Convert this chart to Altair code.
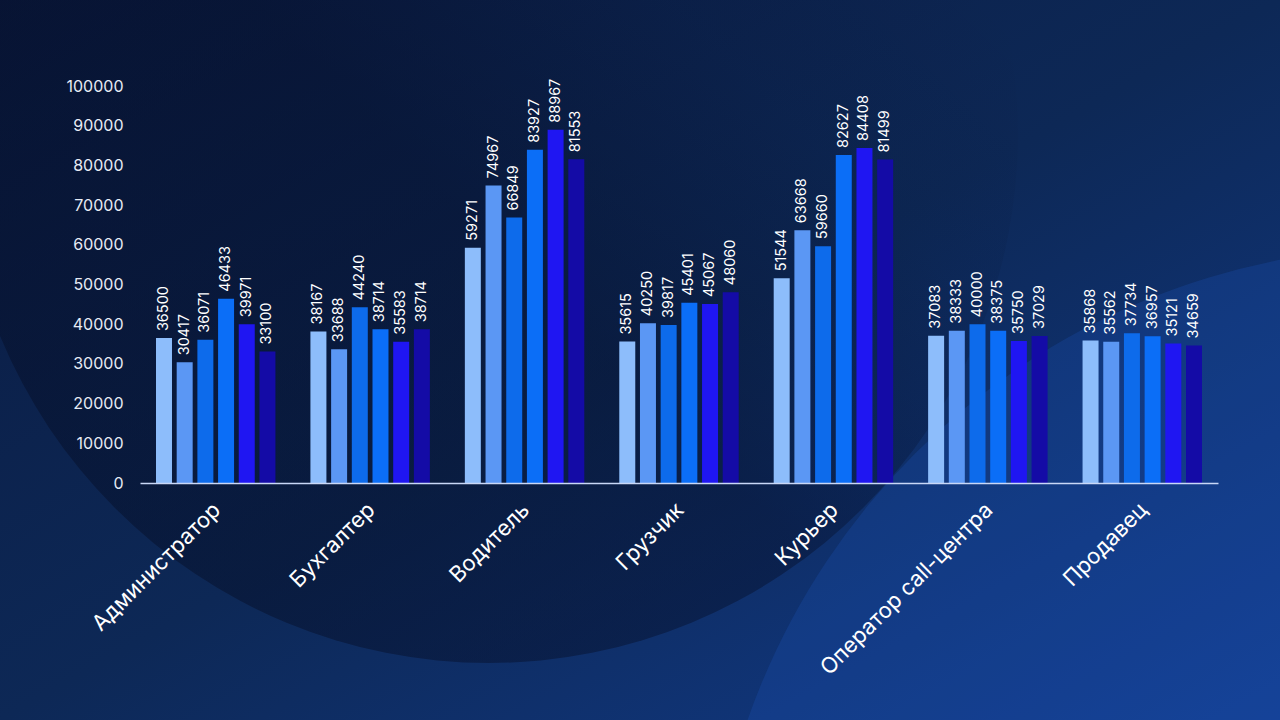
import altair as alt
import pandas as pd

categories = ["Администратор", "Бухгалтер", "Водитель", "Грузчик", "Курьер",
              "Оператор call-центра", "Продавец"]
series = ["Ряд 1", "Ряд 2", "Ряд 3", "Ряд 4", "Ряд 5", "Ряд 6"]
values = [
    [36500, 30417, 36071, 46433, 39971, 33100],
    [38167, 33688, 44240, 38714, 35583, 38714],
    [59271, 74967, 66849, 83927, 88967, 81553],
    [35615, 40250, 39817, 45401, 45067, 48060],
    [51544, 63668, 59660, 82627, 84408, 81499],
    [37083, 38333, 40000, 38375, 35750, 37029],
    [35868, 35562, 37734, 36957, 35121, 34659],
]
colors = ["#8DBDFB", "#5B97F4", "#0D6BEB", "#0B6EF7", "#1F16F2", "#140BA6"]
y_ticks = list(range(0, 100001, 10000))

rows = []
for ci, cat in enumerate(categories):
    for si, s in enumerate(series):
        rows.append({"cat": cat, "series": s, "value": values[ci][si]})
df = pd.DataFrame(rows)

FONT = "Inter"
W, H = 1078, 397
PAD_L, PAD_T = 140, 86

one = pd.DataFrame({"k": [0]})

bg = alt.Chart(one).mark_rect(
    fill=alt.Gradient(
        gradient="linear",
        stops=[alt.GradientStop(offset=0, color="#0A1A40"),
               alt.GradientStop(offset=0.5, color="#0D2856"),
               alt.GradientStop(offset=1, color="#123C8C")],
        x1=0, y1=0, x2=1, y2=1),
    strokeWidth=0,
).encode(x=alt.value(-PAD_L), x2=alt.value(1280 - PAD_L),
         y=alt.value(-PAD_T), y2=alt.value(720 - PAD_T))

# large darker disc behind the chart, fading out towards the top right
dark = alt.Chart(one).mark_point(
    shape="circle", size=(2 * 529) ** 2, filled=True, opacity=1, strokeWidth=0,
    fill=alt.Gradient(
        gradient="linear",
        stops=[alt.GradientStop(offset=0, color="rgba(4,11,34,0.45)"),
               alt.GradientStop(offset=0.45, color="rgba(4,11,34,0.40)"),
               alt.GradientStop(offset=0.65, color="rgba(4,11,34,0.10)"),
               alt.GradientStop(offset=0.8, color="rgba(4,11,34,0)")],
        x1=0, y1=1, x2=1, y2=0),
).encode(x=alt.value(489 - PAD_L), y=alt.value(134 - PAD_T))

# lighter disc in the lower right corner
light = alt.Chart(one).mark_point(
    shape="circle", size=(2 * 706) ** 2, filled=True, opacity=0.22,
    fill="#1E5CC8", strokeWidth=0,
).encode(x=alt.value(1414 - PAD_L), y=alt.value(953 - PAD_T))

x_enc = alt.X("cat:N", sort=categories, title=None,
              scale=alt.Scale(paddingInner=0.2265, paddingOuter=0.1036),
              axis=alt.Axis(labelAngle=-45, labelAlign="right", labelBaseline="top",
                            labelFontSize=22, labelColor="#FFFFFF", labelFont=FONT,
                            labelPadding=16, labelOffset=-6, labelLimit=0,
                            ticks=False, domainColor="#C9D8F7", domainWidth=1.5,
                            grid=False, zindex=1))
xo_enc = alt.XOffset("series:N", sort=series,
                     scale=alt.Scale(paddingInner=0.227, paddingOuter=0))
y_enc = alt.Y("value:Q", title=None,
              scale=alt.Scale(domain=[0, 100000], nice=False),
              axis=alt.Axis(values=y_ticks, format="d", labelFontSize=16,
                            labelColor="#E6EBF5", labelFont=FONT, labelPadding=17,
                            ticks=False, domain=False, grid=False, zindex=1))

bars = alt.Chart(df).mark_bar().encode(
    x=x_enc, xOffset=xo_enc, y=y_enc,
    color=alt.Color("series:N", sort=series,
                    scale=alt.Scale(domain=series, range=colors), legend=None),
)
labels = alt.Chart(df).mark_text(
    angle=270, align="left", baseline="middle", dx=7,
    color="#FFFFFF", fontSize=14.5, font=FONT,
).encode(x=x_enc, xOffset=xo_enc, y=y_enc, text=alt.Text("value:Q", format="d"))

chart = alt.layer(bg, dark, light, bars, labels).properties(
    width=W, height=H,
    autosize=alt.AutoSizeParams(type="none"),
    padding={"left": PAD_L, "top": PAD_T, "right": 1280 - PAD_L - W,
             "bottom": 720 - PAD_T - H},
    background="#0B1A40",
).configure_view(strokeWidth=0)

chart.save("out.html", embed_options={"renderer": "svg", "actions": False})
